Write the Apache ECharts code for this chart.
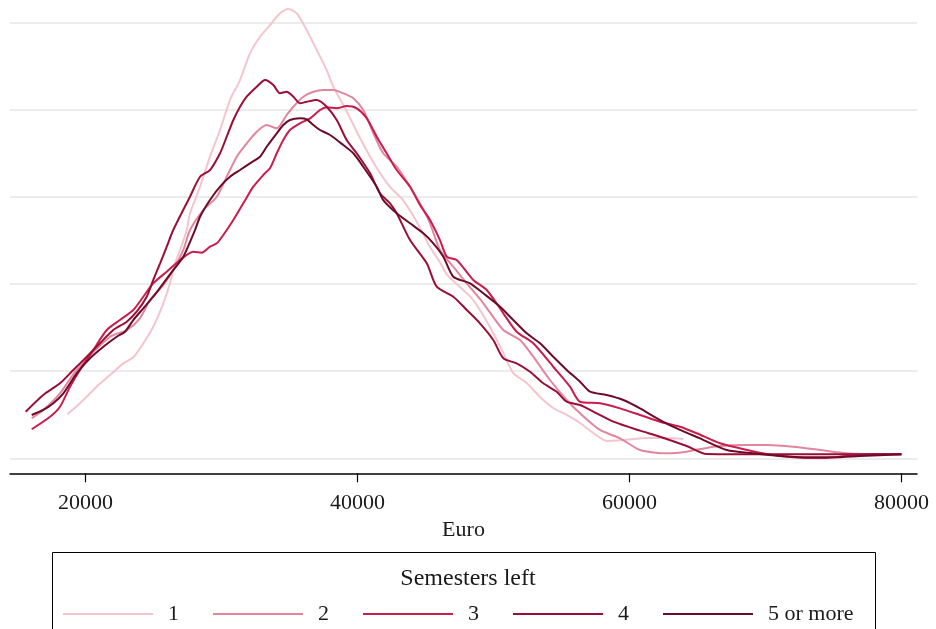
<!DOCTYPE html>
<html lang="en">
  <head>
    <meta charset="UTF-8" />
    <title>Kernel density by semesters left</title>
    <script src="https://cdn.jsdelivr.net/npm/echarts@6/dist/echarts.min.js"></script>
  </head>
  <body style="margin: 0">
    <div id="main" style="width: 936px; height: 629px"></div>
    <script type="text/javascript">
      // density values in units of 1e-5 per euro
      const sem1 = [
        [18670, 0.505], [19600, 0.631], [20830, 0.821], [21810, 0.955], [22790, 1.089],
        [23520, 1.158], [24260, 1.319], [24990, 1.509], [25730, 1.778], [26220, 2.007],
        [26590, 2.236], [26960, 2.389], [27450, 2.618], [27690, 2.81], [28430, 3.115],
        [29160, 3.459], [29900, 3.765], [30630, 4.109], [31370, 4.338], [32100, 4.644],
        [32840, 4.835], [33570, 4.969], [34310, 5.103], [34920, 5.153], [35540, 5.103],
        [36270, 4.912], [37010, 4.682], [37740, 4.453], [38230, 4.261], [39090, 4.017],
        [40190, 3.673], [41290, 3.364], [42400, 3.112], [43350, 2.962], [44380, 2.71],
        [45340, 2.422], [46070, 2.25], [46570, 2.11], [47540, 1.965], [48520, 1.815],
        [49750, 1.506], [50730, 1.208], [51460, 0.978], [52450, 0.864], [53430, 0.703],
        [54400, 0.577], [55390, 0.497], [56370, 0.405], [57350, 0.29], [58330, 0.199],
        [59550, 0.21], [61290, 0.233], [62770, 0.233], [63960, 0.222]
      ];
      const sem2 = [
        [16050, 0.459], [16900, 0.554], [18130, 0.745], [19360, 1.013], [21810, 1.394],
        [23040, 1.471], [24010, 1.606], [24750, 1.815], [25730, 1.987], [26460, 2.159],
        [27200, 2.389], [27690, 2.618], [28670, 2.847], [29660, 3.0], [30390, 3.229],
        [31130, 3.459], [31860, 3.612], [32600, 3.745], [33330, 3.822], [34070, 3.784],
        [34800, 3.937], [35290, 4.032], [36020, 4.147], [36760, 4.204], [37490, 4.224],
        [38230, 4.224], [38960, 4.186], [39700, 4.128], [40430, 3.994], [41170, 3.727],
        [41900, 3.498], [42890, 3.344], [43870, 3.115], [44600, 2.924], [45340, 2.695],
        [46070, 2.389], [47050, 2.197], [48040, 2.007], [49260, 1.778], [50730, 1.471],
        [51960, 1.357], [52930, 1.165], [54160, 0.898], [55390, 0.669], [56370, 0.516],
        [57840, 0.325], [59310, 0.229], [60780, 0.095], [62770, 0.057], [64210, 0.076],
        [66170, 0.133], [68130, 0.153], [70100, 0.153], [72050, 0.133], [74010, 0.095],
        [75980, 0.057], [78430, 0.046], [80000, 0.046]
      ];
      const sem3 = [
        [16050, 0.333], [17400, 0.477], [18130, 0.592], [18870, 0.821], [19600, 1.013],
        [20580, 1.242], [21570, 1.471], [22540, 1.586], [23520, 1.701], [24260, 1.853],
        [24990, 2.007], [25980, 2.14], [26960, 2.274], [27930, 2.369], [28550, 2.358],
        [29160, 2.427], [29660, 2.466], [30140, 2.561], [30880, 2.733], [31610, 2.924],
        [32350, 3.115], [33080, 3.249], [33570, 3.326], [34070, 3.498], [34550, 3.65],
        [35040, 3.765], [35780, 3.842], [36520, 3.899], [37250, 3.994], [37740, 4.025],
        [38480, 4.014], [39210, 4.04], [39950, 4.014], [40680, 3.902], [41420, 3.688],
        [42150, 3.498], [42890, 3.306], [43870, 3.115], [44600, 2.905], [45340, 2.733],
        [46070, 2.503], [46570, 2.312], [47300, 2.274], [48520, 2.045], [49510, 1.93],
        [50730, 1.663], [51710, 1.452], [52930, 1.319], [54400, 1.05], [55630, 0.821],
        [56370, 0.649], [57840, 0.631], [59310, 0.573], [60780, 0.497], [62250, 0.42],
        [63720, 0.362], [64950, 0.287], [66660, 0.172], [68130, 0.115], [70100, 0.049],
        [72050, 0.011], [74010, 0.0], [75980, 0.026], [77930, 0.046], [80000, 0.046]
      ];
      const sem4 = [
        [15610, 0.534], [16900, 0.726], [18130, 0.86], [19110, 1.013], [20100, 1.165],
        [21070, 1.319], [22050, 1.471], [23040, 1.567], [23770, 1.681], [24510, 1.853],
        [24990, 2.045], [25490, 2.236], [25980, 2.427], [26460, 2.618], [27690, 3.0],
        [28430, 3.229], [29160, 3.306], [29900, 3.498], [30390, 3.688], [30880, 3.88],
        [31370, 4.032], [31860, 4.147], [32600, 4.261], [33210, 4.338], [33820, 4.281],
        [34310, 4.186], [34800, 4.204], [35290, 4.147], [35780, 4.071], [36270, 4.089],
        [37010, 4.109], [37740, 4.032], [38480, 3.88], [39210, 3.65], [39950, 3.498],
        [40930, 3.268], [41660, 3.039], [42400, 2.924], [42890, 2.81], [43870, 2.503],
        [45100, 2.236], [45830, 1.968], [47050, 1.853], [48040, 1.701], [49010, 1.548],
        [49990, 1.357], [50730, 1.147], [51710, 1.089], [52690, 0.993], [53670, 0.86],
        [54650, 0.764], [55390, 0.649], [56370, 0.611], [57600, 0.516], [58820, 0.42],
        [60780, 0.317], [62250, 0.248], [64210, 0.141], [65680, 0.049], [69110, 0.046],
        [74010, 0.046], [80000, 0.046]
      ];
      const sem5 = [
        [16050, 0.497], [16900, 0.554], [17640, 0.631], [18380, 0.745], [19360, 0.975],
        [20340, 1.147], [21320, 1.28], [22300, 1.394], [22910, 1.452], [23520, 1.586],
        [24260, 1.72], [24990, 1.853], [25730, 2.007], [26460, 2.159], [27200, 2.312],
        [28060, 2.618], [28430, 2.771], [29160, 2.962], [29900, 3.115], [30630, 3.229],
        [31370, 3.306], [32100, 3.383], [32840, 3.459], [33330, 3.573], [34070, 3.727],
        [34550, 3.822], [35040, 3.88], [35780, 3.899], [36270, 3.888], [36760, 3.822],
        [37250, 3.765], [37990, 3.708], [38960, 3.593], [39700, 3.498], [40430, 3.344],
        [41420, 3.115], [41900, 2.962], [42890, 2.81], [43870, 2.695], [44850, 2.58],
        [45580, 2.466], [46320, 2.312], [47050, 2.083], [48280, 2.007], [49260, 1.892],
        [50490, 1.739], [51460, 1.586], [52450, 1.433], [53430, 1.319], [54400, 1.165],
        [55390, 1.013], [56370, 0.878], [57100, 0.764], [58330, 0.726], [59550, 0.669],
        [60780, 0.573], [62250, 0.439], [63720, 0.325], [65190, 0.229], [67160, 0.095],
        [69110, 0.057], [71070, 0.026], [73040, 0.011], [74990, 0.011], [76960, 0.026],
        [80000, 0.046]
      ];

      const groupNames = ["1", "2", "3", "4", "5 or more"];
      const groupData = [sem1, sem2, sem3, sem4, sem5];
      const groupColors = ["#f4c5cf", "#e2869e", "#c91d4c", "#9b0e37", "#6c0c2a"];
      const xTicks = [20000, 40000, 60000, 80000];

      const serif = "Liberation Serif, DejaVu Serif, serif";
      let myChart = echarts.init(document.getElementById("main"));

      let options = {
        animation: false,
        title: {
          text: "Semesters left",
          left: 463,
          top: 562,
          textAlign: "center",
          textStyle: { fontFamily: serif, fontSize: 24, fontWeight: "normal", color: "#1a1a1a" },
        },
        legend: {
          data: groupNames,
          left: 58,
          top: 598,
          icon: "rect",
          itemWidth: 90,
          itemHeight: 2,
          itemGap: 34,
          textStyle: {
            fontFamily: serif,
            fontSize: 22,
            color: "#1a1a1a",
            padding: [0, 0, 0, 10],
          },
        },
        graphic: [
          {
            type: "rect",
            shape: { x: 52.5, y: 552.5, width: 823, height: 120 },
            style: { fill: "none", stroke: "#000", lineWidth: 1 },
            silent: true,
          },
        ],
        grid: { left: 10, right: 19, top: 0, bottom: 170.7 },
        xAxis: {
          type: "value",
          min: 14456,
          max: 81147,
          offset: 15,
          name: "Euro",
          nameLocation: "middle",
          nameGap: 43,
          nameTextStyle: { fontFamily: serif, fontSize: 22, color: "#1a1a1a" },
          axisLine: { onZero: false, lineStyle: { color: "#000", width: 1.5 } },
          axisTick: { length: 9, customValues: xTicks, lineStyle: { color: "#000", width: 1.2 } },
          axisLabel: {
            customValues: xTicks,
            margin: 19,
            fontFamily: serif,
            fontSize: 22,
            color: "#1a1a1a",
            formatter: (v) => String(v),
          },
          splitLine: { show: false },
        },
        yAxis: {
          type: "value",
          min: 0,
          max: 5.256,
          interval: 1,
          axisLine: { show: false },
          axisTick: { show: false },
          axisLabel: { show: false },
          splitLine: { showMaxLine: false, lineStyle: { color: "#e6e6e6", width: 1.5 } },
        },
        series: groupNames.map((name, i) => ({
          name: name,
          type: "line",
          data: groupData[i],
          showSymbol: false,
          smooth: 0.25,
          color: groupColors[i],
          lineStyle: { width: 2, color: groupColors[i] },
        })),
      };

      myChart.setOption(options);
    </script>
  </body>
</html>
